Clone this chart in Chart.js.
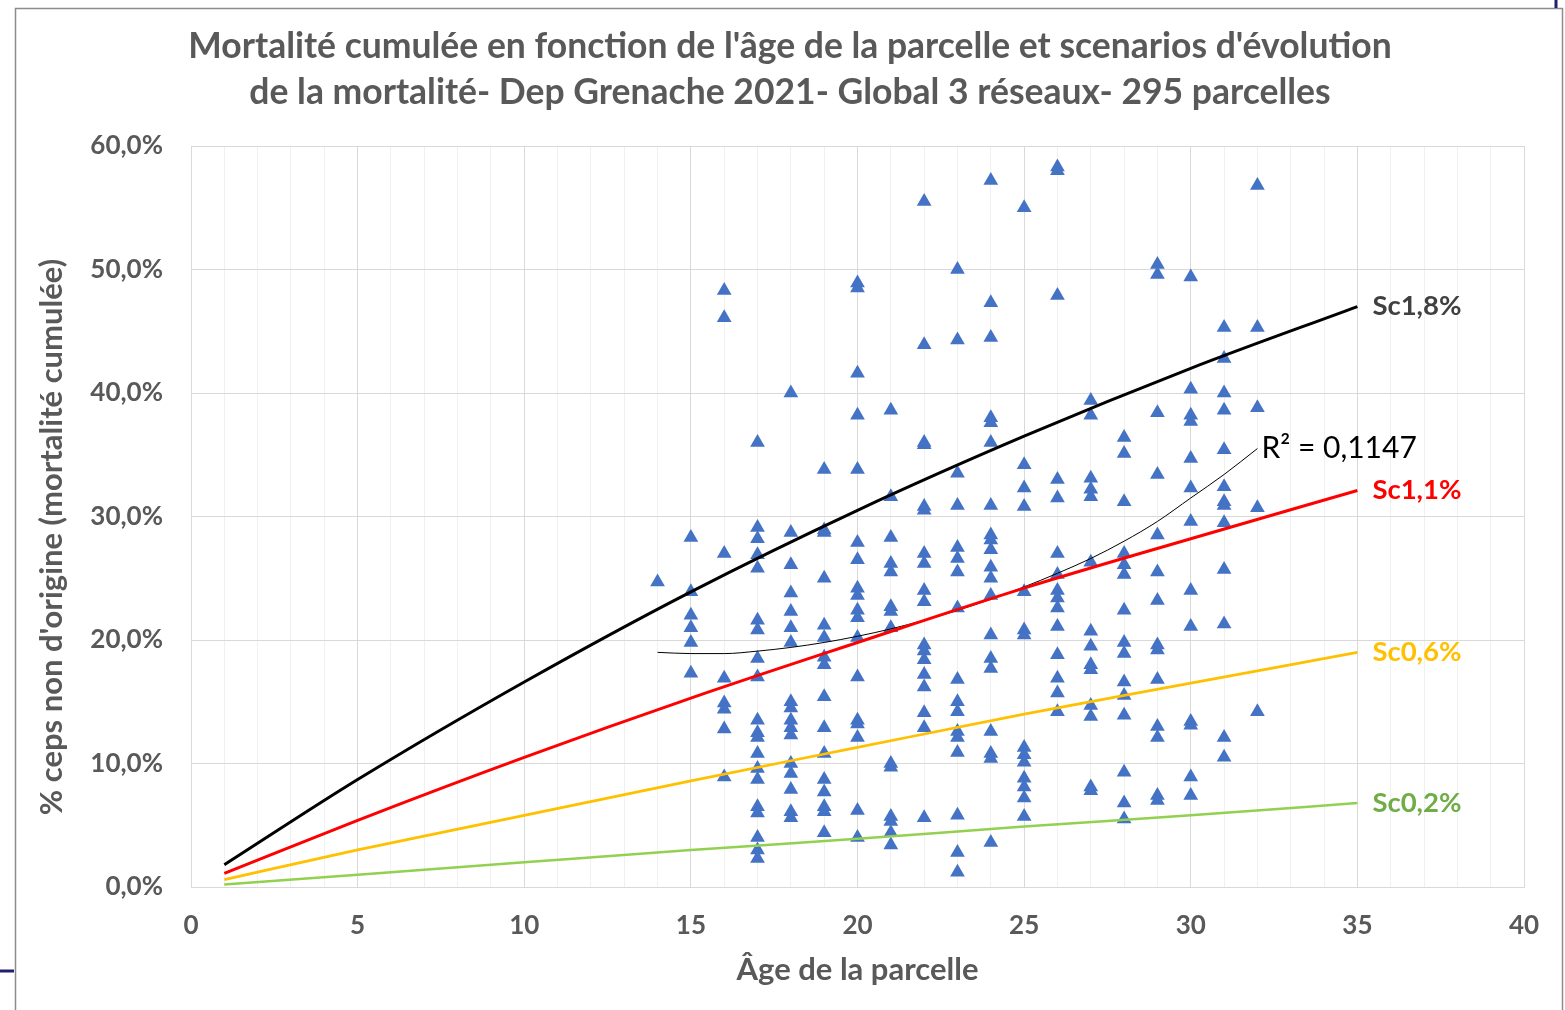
<!DOCTYPE html>
<html lang="fr">
<head>
<meta charset="utf-8">
<title>Mortalité cumulée - Dep Grenache 2021</title>
<script src="https://cdn.jsdelivr.net/npm/chart.js@4.4.1/dist/chart.umd.min.js"></script>
<style>
  html, body { margin: 0; padding: 0; background: #fff; }
  #wrap { width: 1565px; height: 1010px; position: relative; }
</style>
</head>
<body>
<div id="wrap"><canvas id="chart" width="1565" height="1010"></canvas></div>
<script>
/* Nuage âge / mortalité + scénarios d'évolution + courbe de tendance polynomiale. */

// Parcelles : âge (ans) et % ceps non d'origine
var parcelAge = [
    14,
    15, 15, 15, 15, 15, 15,
    16, 16, 16, 16, 16, 16, 16, 16,
    17, 17, 17, 17, 17, 17, 17, 17, 17, 17, 17, 17, 17, 17, 17, 17, 17, 17, 17, 17,
    18, 18, 18, 18, 18, 18, 18, 18, 18, 18, 18, 18, 18, 18, 18, 18, 18,
    19, 19, 19, 19, 19, 19, 19, 19, 19, 19, 19, 19, 19, 19, 19, 19,
    20, 20, 20, 20, 20, 20, 20, 20, 20, 20, 20, 20, 20, 20, 20, 20, 20, 20,
    21, 21, 21, 21, 21, 21, 21, 21, 21, 21, 21, 21, 21, 21,
    22, 22, 22, 22, 22, 22, 22, 22, 22, 22, 22, 22, 22, 22, 22, 22, 22, 22,
    23, 23, 23, 23, 23, 23, 23, 23, 23, 23, 23, 23, 23, 23, 23, 23, 23,
    24, 24, 24, 24, 24, 24, 24, 24, 24, 24, 24, 24, 24, 24, 24, 24, 24, 24, 24, 24,
    25, 25, 25, 25, 25, 25, 25, 25, 25, 25, 25, 25, 25, 25,
    26, 26, 26, 26, 26, 26, 26, 26, 26, 26, 26, 26, 26, 26, 26,
    27, 27, 27, 27, 27, 27, 27, 27, 27, 27, 27, 27, 27, 27,
    28, 28, 28, 28, 28, 28, 28, 28, 28, 28, 28, 28, 28, 28, 28,
    29, 29, 29, 29, 29, 29, 29, 29, 29, 29, 29, 29, 29, 29,
    30, 30, 30, 30, 30, 30, 30, 30, 30, 30, 30, 30, 30,
    31, 31, 31, 31, 31, 31, 31, 31, 31, 31, 31, 31, 31,
    32, 32, 32, 32, 32
];
var parcelMort = [
    24.7,
    28.3, 23.9, 22.0, 21.0, 19.8, 17.3,
    48.3, 46.1, 27.0, 16.9, 14.9, 14.4, 12.8, 8.9,
    36.0, 29.1, 28.2, 26.9, 25.8, 21.6, 20.8, 18.5, 17.0, 13.5, 12.5, 12.1, 10.8, 9.6, 8.7, 6.5, 6.0, 4.0, 3.0, 2.3,
    40.0, 28.7, 26.1, 23.8, 22.3, 21.0, 19.8, 15.0, 14.5, 13.5, 12.9, 12.3, 10.0, 9.2, 7.9, 6.1, 5.6,
    33.8, 28.9, 28.7, 25.0, 21.2, 20.2, 18.6, 18.0, 15.4, 12.9, 10.8, 8.7, 7.7, 6.5, 6.1, 4.4,
    48.9, 48.5, 41.6, 38.2, 33.8, 27.9, 26.5, 24.2, 23.6, 22.4, 21.8, 20.2, 17.0, 13.5, 13.2, 12.1, 6.2, 4.0,
    38.6, 31.6, 28.3, 26.2, 25.5, 22.7, 22.3, 21.0, 10.0, 9.7, 5.7, 5.3, 4.4, 3.4,
    55.5, 43.9, 36.0, 35.8, 30.8, 30.5, 27.0, 26.2, 24.0, 23.1, 19.6, 19.1, 18.4, 17.2, 16.2, 14.1, 12.9, 5.6,
    50.0, 44.3, 33.5, 30.9, 27.5, 26.6, 25.5, 22.6, 16.8, 15.0, 14.2, 12.6, 12.1, 10.9, 5.8, 2.8, 1.2,
    57.2, 47.3, 44.5, 38.0, 37.6, 36.0, 30.9, 28.5, 28.1, 27.3, 25.9, 25.0, 23.6, 20.4, 18.5, 17.7, 12.6, 10.8, 10.4, 3.6,
    55.0, 34.2, 32.3, 30.8, 23.9, 20.8, 20.4, 11.3, 10.7, 10.1, 8.8, 8.1, 7.2, 5.7,
    58.3, 58.0, 47.9, 33.0, 31.5, 27.0, 25.3, 24.0, 23.4, 22.6, 21.1, 18.8, 16.9, 15.7, 14.2,
    39.4, 38.2, 33.1, 32.2, 31.6, 26.3, 20.7, 19.5, 18.0, 17.6, 14.7, 13.8, 8.1, 7.8,
    36.4, 35.1, 31.2, 27.0, 26.1, 25.3, 22.4, 19.8, 18.9, 16.6, 15.5, 13.9, 9.3, 6.8, 5.5,
    50.4, 49.6, 38.4, 33.4, 28.5, 25.5, 23.2, 19.6, 19.2, 16.8, 13.0, 12.1, 7.4, 7.0,
    49.4, 40.3, 38.2, 37.7, 34.7, 32.3, 29.6, 24.0, 21.1, 13.4, 13.1, 8.9, 7.4,
    45.3, 42.8, 40.0, 38.6, 35.4, 32.4, 31.2, 30.9, 29.5, 25.7, 21.3, 12.1, 10.5,
    56.8, 45.3, 38.8, 30.7, 14.2
];

// Scénarios (âge -> % cumulé)
var scenAges = [1, 5, 10, 15, 20, 25, 30, 35];
var sc18 = [1.8, 8.7, 16.6, 23.9, 30.5, 36.5, 42.0, 47.0];
var sc11 = [1.1, 5.4, 10.5, 15.3, 19.8, 24.2, 28.2, 32.1];
var sc06 = [0.6, 3.0, 5.8, 8.6, 11.3, 14.0, 16.5, 19.0];
var sc02 = [0.2, 1.0, 2.0, 3.0, 3.9, 4.9, 5.8, 6.8];
var scenLabels = ["Sc1,8%", "Sc1,1%", "Sc0,6%", "Sc0,2%"];

// Courbe de tendance (polynomiale)
var trendAges = [14, 15, 16, 17, 18, 19, 20, 21, 22, 23, 24, 25, 26, 27, 28, 29, 30, 31, 32];
var trendVals = [19.0, 18.9, 18.9, 19.1, 19.4, 19.8, 20.3, 20.9, 21.6, 22.4, 23.3, 24.3, 25.4, 26.6, 28.0, 29.6, 31.5, 33.4, 35.5];
var trendLabel = "R² = 0,1147";

var xTicks = [0, 5, 10, 15, 20, 25, 30, 35, 40];

var TXT = "#595959";
var FONT = "Lato, 'Open Sans', sans-serif";

function pts(xs, ys) {
    return xs.map(function (x, i) { return { x: x, y: ys[i] }; });
}

function pct(v) { return v.toFixed(1).replace(".", ",") + "%"; }

function line(data, color, width) {
    return {
        type: "line", data: data, borderColor: color, borderWidth: width,
        pointRadius: 0, fill: false, cubicInterpolationMode: "monotone", order: 0
    };
}

var decor = {
    id: "decor",
    beforeDraw: function (chart) {
        var ctx = chart.ctx;
        ctx.save();
        ctx.fillStyle = "#fff";
        ctx.fillRect(0, 0, chart.width, chart.height);
        // cadre de l'objet graphique
        ctx.strokeStyle = "#8c8c8c";
        ctx.lineWidth = 1.5;
        ctx.beginPath();
        ctx.moveTo(15.5, 1010); ctx.lineTo(15.5, 8.5); ctx.lineTo(1562.5, 8.5); ctx.lineTo(1562.5, 1010);
        ctx.stroke();
        ctx.strokeStyle = "#1f1f6e";
        ctx.lineWidth = 3;
        ctx.beginPath();
        ctx.moveTo(0, 971); ctx.lineTo(14, 971);
        ctx.moveTo(1556, 0); ctx.lineTo(1556, 8);
        ctx.stroke();
        ctx.restore();
    },
    afterDraw: function (chart) {
        var ctx = chart.ctx;
        var xs = chart.scales.x, ys = chart.scales.y;
        ctx.save();
        ctx.fillStyle = TXT;
        ctx.textAlign = "center";
        ctx.textBaseline = "middle";
        ctx.font = "bold 35.5px " + FONT;
        ctx.fillText("Mortalité cumulée en fonction de l'âge de la parcelle et scenarios d'évolution", 790, 47);
        ctx.fillText("de la mortalité- Dep Grenache 2021- Global 3 réseaux- 295 parcelles", 790, 93);

        ctx.font = "bold 31px " + FONT;
        ctx.fillText("Âge de la parcelle", (chart.chartArea.left + chart.chartArea.right) / 2, 970);
        ctx.save();
        ctx.translate(52, 537);
        ctx.rotate(-Math.PI / 2);
        ctx.fillText("% ceps non d'origine (mortalité cumulée)", 0, 0);
        ctx.restore();

        // étiquettes des scénarios, au bout de chaque courbe
        var colors = ["#404040", "#ff0000", "#ffc000", "#70ad47"];
        var ends = [sc18, sc11, sc06, sc02];
        var xEnd = xs.getPixelForValue(scenAges[scenAges.length - 1]);
        ctx.textAlign = "left";
        ctx.font = "bold 27.5px " + FONT;
        ends.forEach(function (serie, i) {
            ctx.fillStyle = colors[i];
            ctx.fillText(scenLabels[i], xEnd + 15, ys.getPixelForValue(serie[serie.length - 1]));
        });

        // R²
        ctx.fillStyle = "#000";
        ctx.font = "30px " + FONT;
        ctx.fillText(trendLabel, xs.getPixelForValue(trendAges[trendAges.length - 1]) + 4,
            ys.getPixelForValue(trendVals[trendVals.length - 1]));
        ctx.restore();
    }
};

var chart = new Chart(document.getElementById("chart"), {
    type: "scatter",
    data: {
        datasets: [
            line(pts(scenAges, sc18), "#000000", 3),
            line(pts(scenAges, sc11), "#ff0000", 3),
            line(pts(scenAges, sc06), "#ffc000", 2.75),
            line(pts(scenAges, sc02), "#92d050", 2.5),
            {
                type: "line", data: pts(trendAges, trendVals), borderColor: "#000", borderWidth: 1,
                pointRadius: 0, fill: false, cubicInterpolationMode: "monotone", order: 0
            },
            {
                data: pts(parcelAge, parcelMort), pointStyle: "triangle", pointRadius: 8.5,
                backgroundColor: "#4472c4", borderColor: "#4472c4", borderWidth: 0, order: 1
            }
        ]
    },
    options: {
        responsive: false,
        devicePixelRatio: 1,
        animation: false,
        layout: { padding: { top: 146, right: 41, bottom: 0, left: 0 } },
        plugins: { legend: { display: false }, tooltip: { enabled: false } },
        scales: {
            x: {
                type: "linear", min: 0, max: 40,
                afterFit: function (s) { s.height = 123; },
                afterBuildTicks: function (s) {
                    s.ticks = [];
                    for (var v = 0; v <= 40; v++) s.ticks.push({ value: v });
                },
                border: { color: "#d9d9d9" },
                grid: {
                    drawTicks: false,
                    color: function (c) { return (c.tick && c.tick.value % 5 === 0) ? "#d9d9d9" : "#f0f0f0"; }
                },
                ticks: {
                    autoSkip: false, maxRotation: 0, padding: 23, color: TXT,
                    font: { family: FONT, size: 26, weight: "bold" },
                    callback: function (v) { return xTicks.indexOf(v) >= 0 ? String(v) : ""; }
                }
            },
            y: {
                min: 0, max: 60,
                afterFit: function (s) { s.width = 191; },
                border: { color: "#d9d9d9" },
                grid: { drawTicks: false, color: "#d9d9d9" },
                ticks: {
                    stepSize: 10, padding: 28, color: TXT,
                    font: { family: FONT, size: 26, weight: "bold" },
                    callback: function (v) { return pct(v); }
                }
            }
        }
    },
    plugins: [decor]
});
</script>
</body>
</html>
